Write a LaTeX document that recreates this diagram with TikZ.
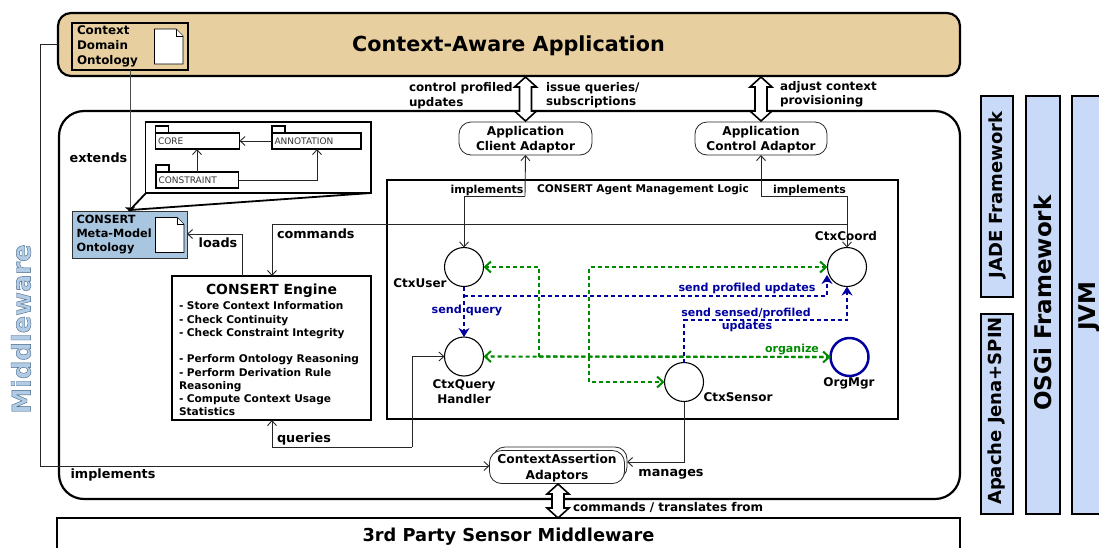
\documentclass[tikz,border=0pt]{standalone}
\usepackage{fontspec}
\setmainfont{DejaVu Sans}
\usetikzlibrary{arrows.meta,calc}
\definecolor{appfill}{HTML}{E8CFA0}
\definecolor{ontofill}{HTML}{A9C6E0}
\definecolor{barfill}{HTML}{C9DAF8}
\definecolor{grn}{HTML}{008A00}
\definecolor{blu}{HTML}{0000A0}
\tikzset{
  every node/.append style={outer sep=0pt},
  >={Straight Barb[length=5pt,width=9pt]},
  boxline/.style={draw=black,line width=2.2pt},
  lbl/.style={font=\bfseries\fontsize{#1}{#1}\selectfont,inner sep=0pt,align=center,text=black},
  lbl/.default=12.8,
  conn/.style={draw=black!85,line width=.9pt,->},
  plainconn/.style={draw=black!85,line width=.9pt},
  agent/.style={circle,draw=black,fill=white,line width=1.1pt,minimum size=39pt,inner sep=0pt},
  adaptor/.style={draw=black!85,fill=white,line width=.8pt,rounded corners=12pt,inner sep=0pt,align=center,font=\bfseries\fontsize{12.1}{15}\selectfont},
  docicon/.style={draw=black,fill=white,line width=.8pt},
  pkgbody/.style={draw=black,fill=white,line width=1.5pt,inner sep=0pt},
  pkgtext/.style={font=\fontsize{9}{9}\selectfont,inner sep=0pt,text=black!80},
  bar/.style={draw=black,fill=barfill,line width=1.5pt},
  barlbl/.style={rotate=90,font=\bfseries\fontsize{#1}{#1}\selectfont,inner sep=0pt},
  gdash/.style={draw=grn,line width=2.1pt,dash pattern=on 4pt off 3pt},
  bdash/.style={draw=blu,line width=2.1pt,dash pattern=on 4pt off 3pt},
  gtip/.style={-{Straight Barb[length=6pt,width=11pt,line width=2pt]}},
  btip/.style={-{Stealth[length=9pt,width=11pt]}},
  dbl/.style={draw=black,fill=white,line width=1.6pt},
}
\newcommand{\dblarrow}[3]{%
  \draw[dbl] (#1,#2) -- ++(11,10) -- ++(-5,0) -- (#1+6,#3-10) -- ++(5,0) -- (#1,#3) -- (#1-11,#3-10) -- ++(5,0) -- (#1-6,#2+10) -- ++(-5,0) -- cycle;}
\newcommand{\docsheet}[4]{%
  \draw[docicon] (#1,#2) -- (#3-7,#2) -- (#3,#2+7) -- (#3,#4) -- (#1,#4) -- cycle;
  \draw[docicon] (#3-7,#2) -- (#3-7,#2+7) -- (#3,#2+7);}
\begin{document}
\begin{tikzpicture}[x=1pt,y=-1pt]
\useasboundingbox (0,0) rectangle (1099,547);
% containers
\draw[boxline,fill=white,rounded corners=25pt] (59,111) rectangle (960,499);
\draw[boxline,fill=white] (57,518) -- (57,560) -- (960,560) -- (960,518) -- cycle;
\node[lbl=17.8] (third) at (508.5,536.5) {3rd Party Sensor Middleware};
\draw[boxline,fill=appfill,rounded corners=13pt] (58,13) rectangle (960,76);
\coordinate (appW) at (58,44);
\node[lbl=20.7] (app) at (508.5,46) {Context-Aware Application};
% Context domain ontology
\node[draw=black,line width=2pt,minimum width=116pt,minimum height=47pt,inner sep=0pt,anchor=north west] (cdo) at (72,22.5) {};
\node[lbl,anchor=west,align=left,font=\bfseries\fontsize{11.9}{15}\selectfont] (cdot) at (77,46) {Context\\Domain\\Ontology};
\docsheet{154.5}{29}{183}{64}
% meta model
\node[draw=black!80,fill=ontofill,line width=1pt,minimum width=115pt,minimum height=47pt,inner sep=0pt,anchor=north west] (cmm) at (72,211) {};
\node[lbl,anchor=west,align=left,font=\bfseries\fontsize{11.3}{14}\selectfont] (cmmt) at (76.5,234.5) {CONSERT\\Meta-Model\\Ontology};
\docsheet{155.5}{217.5}{184}{252.5}
% package callout
\draw[draw=black,fill=white,line width=1.8pt] (145.5,122) -- (371,122) -- (371,193) -- (145.5,193) -- cycle;
\draw[draw=black,line width=1.8pt] (146,193) -- (130,210) -- (371,193);
\draw[draw=black,fill=black] (125.5,207.5) -- (134.5,207.5) -- (130,211) -- cycle;
% packages
\foreach \nm/\xa/\xb/\ya/\txt in {core/155.5/239.5/133/CORE,anno/272/361/133/ANNOTATION,cons/156/238.5/172/CONSTRAINT}{
  \draw[pkgbody] (\xa,\ya-7) rectangle (\xa+13,\ya);
  \node[pkgbody,anchor=north west,minimum width=\xb-\xa,minimum height=16pt] (\nm) at (\xa,\ya) {};
  \node[pkgtext,anchor=west] (\nm t) at (\xa+2.5,\ya+8) {\txt};
}
\draw[conn] (anno.west) -- (core.east);
\draw[conn] (cons.north -| 197,0) -- (core.south -| 197,0);
\draw[conn] (cons.east) -- (317,180) -- (anno.south -| 317,0);
\node[lbl] (extends) at (98.5,157.5) {extends};
\draw[plainconn,draw=black!70] (cdo.south -| 130,0) -- (130,208);
% engine
\node[draw=black,line width=2pt,fill=white,minimum width=199pt,minimum height=144pt,inner sep=0pt,anchor=north west] (engine) at (172,276) {};
\node[lbl=13.9] (enginet) at (271.5,290.5) {CONSERT Engine};
\node[anchor=west,inner sep=0pt,text width=190pt,font=\bfseries\fontsize{10.6}{13.25}\selectfont,align=left] (enginel) at (179,359) {- Store Context Information\\- Check Continuity\\- Check Constraint Integrity\\\mbox{}\\- Perform Ontology Reasoning\\- Perform Derivation Rule\\Reasoning\\- Compute Context Usage\\Statistics};
% agent box
\node[draw=black,line width=2.2pt,minimum width=511pt,minimum height=239pt,inner sep=0pt,anchor=north west] (agentbox) at (387,180) {};
\node[lbl=10.6] (agenttitle) at (643,189.5) {CONSERT Agent Management Logic};
% adaptors
\node[adaptor,minimum width=133pt,minimum height=33pt] (client) at (525.5,138.5) {};
\node[lbl,font=\bfseries\fontsize{12.1}{15}\selectfont] (clientt) at (525.5,139.5) {Application\\Client Adaptor};
\node[adaptor,minimum width=132pt,minimum height=33pt] (control) at (761,138.5) {};
\node[lbl,font=\bfseries\fontsize{12.1}{15}\selectfont] (controlt) at (761,139.5) {Application\\Control Adaptor};
\node[draw=black!85,fill=white,line width=.8pt,rounded corners=12pt,minimum width=134pt,minimum height=32pt] (cashadow) at (560,463) {};
\node[adaptor,minimum width=135pt,minimum height=33pt] (ca) at (557,467) {};
\node[lbl,font=\bfseries\fontsize{12.2}{16}\selectfont] (cat) at (557,468) {ContextAssertion\\Adaptors};
% agents
\node[agent] (user) at (464,267) {};
\node[agent] (query) at (464,356.5) {};
\node[agent] (sensor) at (684,382) {};
\node[agent] (coord) at (847,267) {};
\node[agent,draw=blu,line width=2.5pt,minimum size=38pt] (org) at (849.5,357) {};
% green bus
\coordinate (g1) at (539,356.5);
\coordinate (g2) at (589,356.5);
\draw[gdash,gtip] (org.west) -- (query.east);
\draw[gdash,gtip] (g1) -- (g1 |- user.east) -- (user.east);
\draw[gdash,gtip] (g2) -- (g2 |- coord.west) -- (coord.west);
\draw[gdash,gtip] (g2) -- (g2 |- sensor.west) -- (sensor.west);
\draw[gdash,gtip] (g1) -- (org.west);
% blue
\coordinate (b1) at (464,296);
\draw[bdash,btip] (user.south) -- (query.north);
\draw[bdash,btip] (b1) -- (827,296) -- (827,275);
\draw[bdash,btip] (sensor.north) -- (684,320) -- (847,320) -- (coord.south);
% black connectors
\draw[conn] (525,196) -- (client.south);
\draw[plainconn] (525,196) -- (464,196);
\draw[conn] (464,196) -- (user.north);
\draw[conn] (761,196) -- (control.south);
\draw[plainconn] (761,196) -- (847,196);
\draw[conn] (847,196) -- (coord.north);
\draw[conn] (847,224) -- (272,224) -- (engine.north -| 272,0);
\draw[conn] (engine.north -| 242,0) -- (242,234) -- (cmm.east |- 0,234);
\draw[conn] (412,447) -- (412,356.5) -- (query.west);
\draw[conn] (412,447) -- (272,447) -- (engine.south -| 272,0);
\draw[conn] (sensor.south) -- (684,462) -- (cashadow.east |- 0,462);
\draw[conn] (appW) -- (40,44) -- (40,466) -- (ca.west |- 0,466);
% double arrows
\dblarrow{525.5}{77}{121}
\dblarrow{761}{77}{121}
\dblarrow{558}{484}{518}
% labels
\node[lbl=11.9,anchor=west] (l1) at (409,88.5) {control profiled};
\node[lbl=11.9,anchor=west] (l2) at (409,103) {updates};
\node[lbl=11.9,anchor=west] (l3) at (546,88) {issue queries/};
\node[lbl=11.9,anchor=west] (l4) at (546,102.5) {subscriptions};
\node[lbl=11.9,anchor=west] (l5) at (780,87) {adjust context};
\node[lbl=11.9,anchor=west] (l6) at (780,101.5) {provisioning};
\node[lbl=11] (i1) at (487,190) {implements};
\node[lbl=11] (i2) at (809.5,190) {implements};
\node[lbl,anchor=west] (cm) at (277,233.5) {commands};
\node[lbl] (lo) at (218,242.5) {loads};
\node[lbl,anchor=west] (qu) at (277,439) {queries};
\node[lbl] (im) at (113,474.5) {implements};
\node[lbl] (ma) at (671,474.5) {manages};
\node[lbl=12,anchor=west] (tr) at (573,507.5) {commands / translates from};
\node[lbl=12] (nuser) at (420,283.5) {CtxUser};
\node[lbl,font=\bfseries\fontsize{12}{14.5}\selectfont] (nquery) at (464,391.5) {CtxQuery\\Handler};
\node[lbl=12] (nsensor) at (738,397.5) {CtxSensor};
\node[lbl=12] (ncoord) at (846,236.5) {CtxCoord};
\node[lbl=12] (norg) at (849,383.5) {OrgMgr};
\node[lbl=11.2,text=blu] (s1) at (467,310) {send query};
\node[lbl=11.1,text=blu] (s2) at (747,288) {send profiled updates};
\node[lbl=11,text=blu] (s3) at (746,313) {send sensed/profiled};
\node[lbl=11,text=blu] (s4) at (747,326.5) {updates};
\node[lbl=11,text=grn] (s5) at (792,349.5) {organize};
% right bars
\node[bar,minimum width=32pt,minimum height=201pt,inner sep=0pt,anchor=north west] (jade) at (981,96) {};
\node[barlbl=18] (jadet) at (997,195) {JADE Framework};
\node[bar,minimum width=32pt,minimum height=200pt,inner sep=0pt,anchor=north west] (jena) at (981,314) {};
\node[barlbl=18] (jenat) at (997,411) {Apache Jena+SPIN};
\node[bar,minimum width=34pt,minimum height=418pt,inner sep=0pt,anchor=north west] (osgi) at (1026,96) {};
\node[barlbl=23] (osgit) at (1043,303) {OSGi Framework};
\node[bar,minimum width=40pt,minimum height=418pt,inner sep=0pt,anchor=north west] (jvm) at (1072,96) {};
\node[barlbl=23] (jvmt) at (1089,306) {JVM};
% side label
\node[rotate=90,inner sep=0pt] (mw) at (21,329) {\special{pdf:bcolor [0.70 0.80 0.90] [0.25 0.38 0.52]}\fontspec{DejaVu Sans Bold}[FakeBold=1.5]\fontsize{25.8}{25.8}\selectfont Middleware\special{pdf:ecolor}};
\end{tikzpicture}
\end{document}
